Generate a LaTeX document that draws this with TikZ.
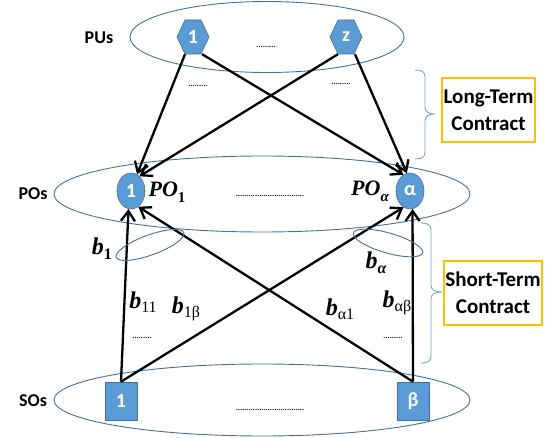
\RequirePackage{fix-cm}
\documentclass[tikz,border=0pt]{standalone}
\usepackage{fontspec}
\newfontfamily\carl{Carlito}
\newfontfamily\ser{Liberation Serif}
\newcommand\mysub[3][5pt]{\raisebox{-#1}{\fontsize{#2}{#2}\selectfont #3}}
\usetikzlibrary{shapes.geometric, arrows.meta}
\definecolor{ellblue}{HTML}{41719C}
\definecolor{fillblue}{HTML}{5B9BD5}
\definecolor{brblue}{HTML}{6FA8DC}
\definecolor{gold}{HTML}{FFC000}
\begin{document}
\begin{tikzpicture}[x=1pt,y=-1pt,
  layer/.style={draw=ellblue, line width=0.9pt, ellipse, inner sep=0pt},
  ent/.style={fill=fillblue, draw=ellblue, line width=0.6pt, text=white, font=\carl\bfseries\fontsize{20}{20}\selectfont, inner sep=0pt},
  hexfill/.style={fill=fillblue, draw=ellblue, line width=0.6pt},
  hextext/.style={text=white, font=\carl\bfseries\fontsize{20}{20}\selectfont, inner sep=0pt, minimum width=32pt, minimum height=34pt},
  po/.style={ent, ellipse, minimum width=28pt, minimum height=36pt},
  so/.style={ent, rectangle, minimum width=32pt, minimum height=38pt},
  lbl/.style={font=\carl\bfseries\fontsize{18}{18}\selectfont, inner sep=0pt},
  link/.style={line width=2.3pt, -{Straight Barb[length=10pt,width=14pt]}},
  brc/.style={draw=brblue, line width=0.9pt},
  box/.style={draw=gold, line width=1.1pt, align=center, font=\carl\bfseries\fontsize{21}{27}\selectfont, minimum height=64pt, inner sep=0pt},
  dots/.style={font=\carl\bfseries\fontsize{8}{8}\selectfont, inner sep=0pt},
  mlab/.style={inner sep=0pt, font=\ser\bfseries\itshape\fontsize{22}{22}\selectfont},
  blab/.style={inner sep=0pt, font=\ser\bfseries\itshape\fontsize{24}{24}\selectfont},
  small/.style={draw=ellblue, line width=0.9pt, ellipse, minimum width=72pt, minimum height=20pt, inner sep=0pt}
]
\useasboundingbox (0,0) rectangle (550,438);

% layer ellipses
\node[layer, minimum width=274pt, minimum height=71pt] (PUs) at (267,37) {};
\node[layer, minimum width=416pt, minimum height=76pt] (POs) at (262,194) {};
\node[layer, minimum width=416pt, minimum height=72pt] (SOs) at (262,400) {};

% layer labels
\node[lbl] (lPU) at (99,38) {PUs};
\node[lbl] (lPO) at (33,194) {POs};
\node[lbl] (lSO) at (33,401) {SOs};

% PU hexagons
\draw[hexfill] (193,37) ++(-16,0) -- ++(8,-17) -- ++(16,0) -- ++(8,17) -- ++(-8,17) -- ++(-16,0) -- cycle;
\node[hextext] (PU1) at (193,37) {1};
\draw[hexfill] (346,37) ++(-16,0) -- ++(8,-17) -- ++(16,0) -- ++(8,17) -- ++(-8,17) -- ++(-16,0) -- cycle;
\node[hextext] (PUz) at (346,37) {z};

% PO and SO nodes
\node[po] (PO1) at (131,191) {1};
\node[po] (POa) at (410,191) {α};
\node[so] (SO1) at (121,401) {1};
\node[so] (SOb) at (413,401) {β};

% dots
\node[dots] (d1) at (266,47) {.........};
\node[dots] (d2) at (198,86) {.........};
\node[dots] (d3) at (341,84) {.........};
\node[dots] (d4) at (270,196) {................................};
\node[dots] (d5) at (270,410) {................................};
\node[dots] (d6) at (142,338) {.........};
\node[dots] (d7) at (393,338) {.........};

% labels
\node[mlab] (lPO1) at (167,192) {PO\mysub[6pt]{15}{\upshape 1}};
\node[mlab] (lPOa) at (370,191) {PO\mysub[6pt]{15}{α}};
\node[blab] (lb1) at (102,249) {b\mysub{16}{\upshape 1}};
\node[blab] (lba) at (376,263) {b\mysub{16}{α}};
\node[blab] (lb11) at (143,302) {b\mysub[4pt]{16}{\mdseries\upshape 11}};
\node[blab] (lb1b) at (186,309) {b\mysub[4pt]{16}{\mdseries\upshape 1β}};
\node[blab] (lba1) at (340,309) {b\mysub[4pt]{16}{\mdseries\upshape α1}};
\node[blab] (lbab) at (397,303) {b\mysub[4pt]{16}{\mdseries\upshape αβ}};

% connectors
\draw[link] ([xshift=-8pt]PU1.south) -- (PO1.70);
\draw[link] ([xshift=9pt]PU1.south) -- (POa.112);
\draw[link] ([xshift=-8pt]PUz.south) -- (PO1.60);
\draw[link] ([xshift=9pt]PUz.south) -- (POa.100);
\draw[link] (SO1.north) -- (PO1.-98);
\draw[link] (SO1.north) -- (POa.-112);
\draw[link] (SOb.north) -- (PO1.-65);
\draw[link] (SOb.north) -- (POa.-82);

% bid ellipses
\node[small, rotate=20] (e1) at (150,245) {};
\node[small, rotate=-16] (ea) at (388,243) {};

% braces
\draw[brc] (415,70) .. controls (422,70) and (425,72) .. (425,77) -- (425,107) .. controls (425,112) and (429,114) .. (435,114) .. controls (429,114) and (425,116) .. (425,121) -- (425,152) .. controls (425,157) and (422,159) .. (415,159);
\draw[brc] (421,223) .. controls (428,223) and (431,225) .. (431,230) -- (431,285) .. controls (431,290) and (435,292) .. (442,292) .. controls (435,292) and (431,294) .. (431,299) -- (431,356) .. controls (431,361) and (428,363) .. (421,363);

% contract boxes
\node[box, minimum width=93pt] (LT) at (488.5,110) {Long-Term\\Contract};
\node[box, minimum width=98pt] (ST) at (493,293) {Short-Term\\Contract};
\end{tikzpicture}
\end{document}
